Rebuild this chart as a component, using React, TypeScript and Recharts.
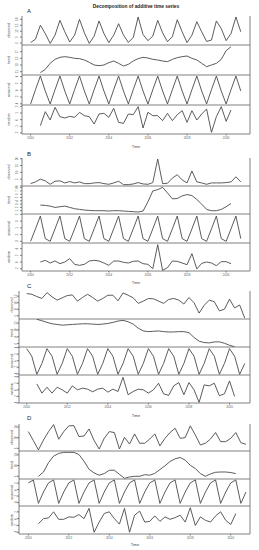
import React from 'react';
import { LineChart, Line, XAxis, YAxis } from 'recharts';

// quarterly series, 2010 Q1 .. 2020 Q4
const years = [2010, 2011, 2012, 2013, 2014, 2015, 2016, 2017, 2018, 2019, 2020];
const quarterSteps = [0, 0.25, 0.5, 0.75];
const time = years.flatMap((y) => quarterSteps.map((q) => y + q));
const yearTicks = [2010, 2012, 2014, 2016, 2018, 2020];
const componentNames = ['observed', 'trend', 'seasonal', 'random'];

// ---- A ----
const observedA = [
  6.2, 8.0, 15.0, 10.8, 5.8, 10.0, 17.5, 11.7, 6.5, 10.0, 18.0, 11.2,
  5.8, 9.5, 17.2, 10.8, 6.2, 10.0, 15.8, 10.0, 6.3, 8.8, 19.2, 10.3,
  7.2, 9.5, 17.5, 11.2, 6.7, 9.2, 17.8, 11.7, 6.2, 10.0, 16.8, 11.7,
  6.8, 7.5, 17.2, 13.3, 7.2, 10.8, 19.2, 11.7,
];
const trendA = [
  null, null, 10.7, 11.7, 13.5, 14.7, 15.3, 15.5, 15.3, 15.0, 14.9, 14.5,
  13.8, 13.0, 12.8, 13.0, 13.7, 14.2, 13.5, 12.7, 13.2, 14.2, 14.9, 15.3,
  15.1, 14.7, 14.5, 14.2, 14.0, 14.7, 15.2, 15.5, 15.7, 15.0, 14.5, 13.5,
  12.5, 13.0, 13.5, 14.7, 17.3, 18.5, null, null,
];
const seasonalA = [
  -4.05, 0.15, 4.15, -0.25, -4.05, 0.15, 4.15, -0.25, -4.05, 0.15, 4.15, -0.25,
  -4.05, 0.15, 4.15, -0.25, -4.05, 0.15, 4.15, -0.25, -4.05, 0.15, 4.15, -0.25,
  -4.05, 0.15, 4.15, -0.25, -4.05, 0.15, 4.15, -0.25, -4.05, 0.15, 4.15, -0.25,
  -4.05, 0.15, 4.15, -0.25, -4.05, 0.15, 4.15, -0.25,
];
const randomA = [
  null, null, -0.9, 1.2, -0.05, 1.85, 0.45, 0.25, 0.5, 0.35, 1.1, 0.6,
  0.45, -0.65, 0.85, 0.95, 0.35, 1.7, -0.4, -0.55, 0.85, 0.75, 1.95, -1.25,
  1.1, 0.6, 0.6, -0.15, 0.95, -0.15, 0.75, 1.35, -0.4, 1.35, -0.05, 0.85,
  1.6, -1.9, 0.45, 1.95, -0.25, 1.45, null, null,
];

// ---- B ----
const observedB = [
  1.75, 3.0, 5.0, 3.75, 1.25, 3.5, 3.75, 2.25, 3.25, 2.25, 3.0, 1.75,
  1.75, 2.25, 2.5, 1.75, 1.25, 2.25, 3.5, 1.0, 1.0, 1.5, 2.5, 1.5,
  1.25, 2.5, 19.75, 1.75, 2.0, 5.75, 8.25, 4.5, 2.25, 11.0, 3.0, 2.25,
  1.25, 2.25, 2.25, 2.25, 2.5, 3.0, 6.75, 3.0,
];
const trendB = [
  null, null, 2.7, 2.6, 2.4, 2.0, 2.2, 2.4, 2.0, 1.6, 1.4, 1.2,
  1.1, 1.0, 1.0, 1.0, 0.9, 1.0, 1.0, 0.9, 0.8, 0.7, 0.6, 0.9,
  3.7, 7.0, 7.4, 8.1, 6.4, 4.6, 4.7, 5.5, 5.9, 5.6, 4.4, 3.0,
  1.4, 1.0, 1.0, 1.4, 2.2, 3.2, null, null,
];
const seasonalB = [
  -3.0, 0.7, 4.5, -2.2, -3.0, 0.7, 4.5, -2.2, -3.0, 0.7, 4.5, -2.2,
  -3.0, 0.7, 4.5, -2.2, -3.0, 0.7, 4.5, -2.2, -3.0, 0.7, 4.5, -2.2,
  -3.0, 0.7, 4.5, -2.2, -3.0, 0.7, 4.5, -2.2, -3.0, 0.7, 4.5, -2.2,
  -3.0, 0.7, 4.5, -2.2, -3.0, 0.7, 4.5, -2.2,
];
const randomB = [
  null, null, 0, 0.5, -0.3, 0.3, -0.5, 0, 1.0, -0.7, -1.0, -0.7,
  0.3, 0.5, 0.3, -0.3, -1.0, 0.3, 0.3, -0.1, -0.3, 0.2, 0.3, -0.5,
  -0.7, -2.0, 5.2, -2.5, -1.7, 0.3, 0.2, -0.3, -0.8, 2.5, -2.1, -0.4,
  0, -0.3, -1.1, 0.1, 0.1, -0.5, null, null,
];

// ---- C ----
const observedC = [
  12.8, 12.6, 11.9, 11.3, 13.1, 11.8, 10.8, 11.5, 12.2, 12.4, 10.5, 11.6,
  12.6, 11.6, 10.5, 11.3, 12.3, 12.3, 10.6, 13.0, 12.3, 11.5, 9.8, 10.5,
  11.3, 11.2, 10.5, 9.8, 11.0, 11.3, 10.8, 9.6, 11.6, 10.0, 6.8, 9.2,
  10.8, 10.3, 7.5, 8.0, 11.1, 8.4, 9.3, 5.3,
];
const trendC = [
  null, null, 13.1, 12.7, 12.2, 11.8, 11.6, 11.4, 11.5, 11.6, 11.7, 11.8,
  11.8, 11.7, 11.6, 11.7, 11.9, 12.2, 12.6, 12.8, 12.4, 11.7, 10.5, 9.7,
  9.5, 9.6, 9.7, 9.5, 9.4, 9.4, 9.5, 9.5, 9.2, 7.8, 6.7, 6.3,
  6.2, 6.5, 6.5, 6.1, 5.5, 5.1, null, null,
];
const seasonalC = [
  3.65, 1.35, -4.15, -0.85, 3.65, 1.35, -4.15, -0.85, 3.65, 1.35, -4.15, -0.85,
  3.65, 1.35, -4.15, -0.85, 3.65, 1.35, -4.15, -0.85, 3.65, 1.35, -4.15, -0.85,
  3.65, 1.35, -4.15, -0.85, 3.65, 1.35, -4.15, -0.85, 3.65, 1.35, -4.15, -0.85,
  3.65, 1.35, -4.15, -0.85, 3.65, 1.35, -4.15, -0.85,
];
const randomC = [
  null, null, 1.8, -1.0, 0.8, -1.0, 0.8, 0, -1.0, 1.2, 0, 0.5,
  0.2, -0.6, 0.2, 0.5, -0.7, 0.2, -0.5, 3.8, -1.5, -0.5, 0.2, 0,
  -1.0, 0, 2.0, -1.2, -1.7, 1.2, 2.2, -1.5, 2.2, 0, -3.8, 1.5,
  1.2, 2.0, -1.8, -1.2, 2.7, -2.0, null, null,
];

// ---- D ----
const observedD = [
  12.25, 8.9, 5.4, 9.1, 12.25, 14.9, 9.4, 12.25, 14.4, 14.5, 10.4, 10.6,
  13.25, 8.9, 5.75, 9.75, 12.25, 11.9, 5.75, 10.1, 7.6, 11.4, 7.9, 7.9,
  9.5, 11.4, 6.9, 9.75, 11.9, 13.5, 9.75, 10.0, 14.4, 11.0, 7.25, 7.9,
  9.5, 11.9, 8.5, 8.5, 9.75, 11.9, 8.1, 7.5,
];
const trendD = [
  null, null, 6.0, 7.6, 11.1, 13.5, 14.5, 14.9, 14.9, 14.9, 14.1, 11.6,
  8.6, 7.25, 6.4, 7.0, 8.25, 8.25, 6.75, 5.25, 5.75, 6.0, 6.0, 6.6,
  6.4, 7.1, 8.5, 9.9, 11.5, 12.5, 13.0, 12.0, 10.1, 8.9, 7.0, 6.0,
  6.9, 7.5, 7.6, 7.6, 7.4, 7.0, null, null,
];
const seasonalD = [
  2.05, 2.95, -4.25, -0.75, 2.05, 2.95, -4.25, -0.75, 2.05, 2.95, -4.25, -0.75,
  2.05, 2.95, -4.25, -0.75, 2.05, 2.95, -4.25, -0.75, 2.05, 2.95, -4.25, -0.75,
  2.05, 2.95, -4.25, -0.75, 2.05, 2.95, -4.25, -0.75, 2.05, 2.95, -4.25, -0.75,
  2.05, 2.95, -4.25, -0.75, 2.05, 2.95, -4.25, -0.75,
];
const randomD = [
  null, null, -1.5, 0, 0.2, 2.0, -0.2, -0.2, 0.5, 0.4, 1.2, 0,
  3.0, -4.0, -1.0, 1.5, 2.0, 0, -1.6, 3.0, -4.0, 1.0, 2.2, -1.0,
  -0.8, 0.8, -0.8, 0.5, -0.2, 0.3, 1.0, -1.0, 3.2, -2.0, 0.5, -0.5,
  -1.0, 0.8, 2.0, -0.5, -1.7, 1.5, null, null,
];

// y scales (domain + tick labels) per component
const domainsA = [[5, 19.7], [10, 19], [-4.35, 4.45], [-2.15, 2.2]];
const ticksA = [[6, 9, 12, 15, 18], [11, 13, 15, 17], [-4, -2, 0, 2, 4], [-2, -1, 0, 1, 2]];
const domainsB = [[0, 20.5], [0, 8.5], [-3.5, 5.1], [-2.7, 5.7]];
const ticksB = [[0, 5, 10, 15, 20], [1, 2, 3, 4, 5, 6, 7, 8], [-3, -1, 1, 3, 5], [-2, 0, 2, 4]];
const domainsC = [[5, 13.6], [5, 13.2], [-4.35, 4.15], [-4, 4.5]];
const ticksC = [[6, 8, 10, 12], [6, 8, 10, 12], [-4, -2, 0, 2, 4], [-4, -2, 0, 2, 4]];
const domainsD = [[5, 15.1], [5, 15.4], [-5.05, 3.25], [-4.5, 3.7]];
const ticksD = [[6, 10, 14], [6, 10, 14], [-4, -2, 0, 2], [-4, -2, 0, 2]];

const W = 259;
const H = 550;
const FRAME_RIGHT = 250;
const INK = '#4a4a4a';
const FRAME = '#606060';
const FONT = '"Liberation Sans", Arial, sans-serif';

const panels = [
  { letter: 'A', series: [observedA, trendA, seasonalA, randomA], domains: domainsA, ticks: ticksA,
    frames: [16, 45, 75, 105, 134], left: 22, xDomain: [2009.56, 2021.22], labelX: 9.8, letterY: 12.7, timeY: 147.5, timeX: 136 },
  { letter: 'B', series: [observedB, trendB, seasonalB, randomB], domains: domainsB, ticks: ticksB,
    frames: [158, 186, 214, 243, 271], left: 22, xDomain: [2009.56, 2021.22], labelX: 9.8, letterY: 155.5, timeY: 283.5, timeX: 136 },
  { letter: 'C', series: [observedC, trendC, seasonalC, randomC], domains: domainsC, ticks: ticksC,
    frames: [291, 319, 347, 375, 403], left: 19, xDomain: [2009.62, 2021.01], labelX: 13.3, letterY: 287.5, timeY: 417, timeX: 136 },
  { letter: 'D', series: [observedD, trendD, seasonalD, randomD], domains: domainsD, ticks: ticksD,
    frames: [424, 451, 479, 506, 534], left: 19, xDomain: [2009.54, 2020.95], labelX: 13.3, letterY: 419.5, timeY: 545.5, timeX: 135 },
];

const YTick = (props: any) => {
  const { x, y, payload } = props;
  return (
    <text transform={`translate(${x},${y}) rotate(-90)`} textAnchor="middle" fontSize={3} fill="#555" fontFamily={FONT}>
      {payload.value}
    </text>
  );
};

type SubProps = {
  top: number;
  bottom: number;
  left: number;
  xDomain: number[];
  values: (number | null)[];
  domain: number[];
  ticks: number[];
  showTime: boolean;
};

const Sub = ({ top, bottom, left, xDomain, values, domain, ticks, showTime }: SubProps) => {
  const axisH = showTime ? 8 : 1;
  const h = bottom - top + 1 + axisH;
  const data = time.map((t, i) => ({ t, v: values[i] }));
  const line = { stroke: FRAME, strokeWidth: 0.8 };
  return (
    <div style={{ position: 'absolute', left: 0, top: top - 1 }}>
      <LineChart width={W} height={h} data={data} margin={{ top: 1, right: W - FRAME_RIGHT - 1, bottom: 0, left: 0 }}>
        <XAxis
          dataKey="t"
          type="number"
          domain={xDomain}
          ticks={yearTicks}
          interval={0}
          allowDataOverflow
          height={axisH}
          tick={showTime ? { fontSize: 3, fill: '#555', fontFamily: FONT } : false}
          tickLine={showTime ? line : false}
          tickSize={1.5}
          tickMargin={1}
          axisLine={line}
        />
        <XAxis xAxisId="top" orientation="top" dataKey="t" type="number" domain={xDomain} allowDataOverflow
          height={0} tick={false} tickLine={false} axisLine={line} />
        <YAxis
          type="number"
          domain={domain}
          ticks={ticks}
          interval={0}
          allowDataOverflow
          width={left}
          tick={YTick}
          tickLine={line}
          tickSize={2}
          tickMargin={left === 22 ? 2.5 : 0.5}
          axisLine={line}
        />
        <YAxis yAxisId="right" orientation="right" width={1} domain={[0, 1]} tick={false} tickLine={false} axisLine={line} />
        <Line type="linear" dataKey="v" stroke={INK} strokeWidth={0.9} dot={false} isAnimationActive={false} />
      </LineChart>
    </div>
  );
};

export default function App() {
  return (
    <div style={{ position: 'absolute', left: 0, top: 0, width: W, height: H, background: '#fff', overflow: 'hidden' }}>
      {panels.map((p) =>
        p.series.map((values, k) => (
          <Sub
            key={p.letter + k}
            top={p.frames[k]}
            bottom={p.frames[k + 1]}
            left={p.left}
            xDomain={p.xDomain}
            values={values}
            domain={p.domains[k]}
            ticks={p.ticks[k]}
            showTime={k === 3}
          />
        ))
      )}
      <svg width={W} height={H} style={{ position: 'absolute', left: 0, top: 0, pointerEvents: 'none' }} fontFamily={FONT}>
        <text x={136} y={7.6} textAnchor="middle" fontSize={4.8} fontWeight="bold" fill="#222">
          Decomposition of additive time series
        </text>
        {panels.map((p) => (
          <g key={p.letter}>
            <text x={27} y={p.letterY} fontSize={6} fill="#222">{p.letter}</text>
            <text x={p.timeX} y={p.timeY} textAnchor="middle" fontSize={3.8} fill="#444">Time</text>
            {componentNames.map((name, k) => {
              const cy = (p.frames[k] + p.frames[k + 1]) / 2;
              return (
                <text key={name} transform={`translate(${p.labelX},${cy}) rotate(-90)`} textAnchor="middle" fontSize={3.6} fill="#444">
                  {name}
                </text>
              );
            })}
          </g>
        ))}
      </svg>
    </div>
  );
}
